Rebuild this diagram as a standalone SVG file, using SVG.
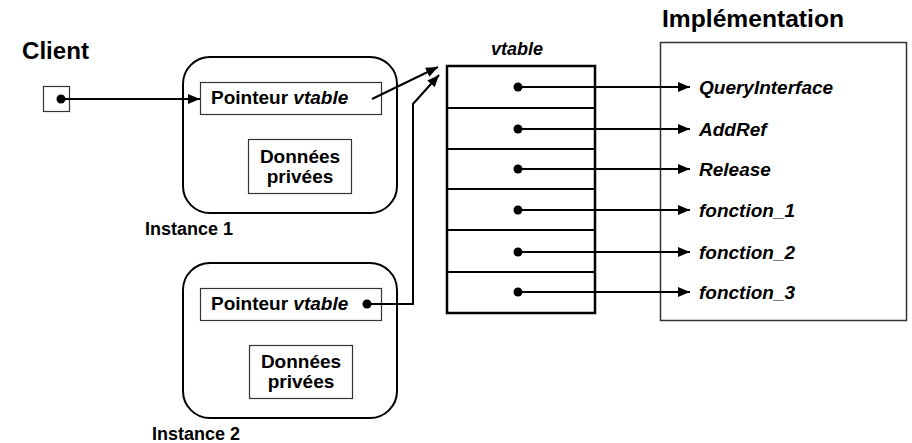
<svg xmlns="http://www.w3.org/2000/svg" width="912" height="443" viewBox="0 0 912 443">
  <style>
    text { font-family: "Liberation Sans", Arial, sans-serif; font-weight: bold; fill: #000; }
    .it { font-style: italic; }
    .title { font-size: 23px; }
    .lbl { font-size: 19px; }
    .cap { font-size: 18px; }
    .inst { fill: #fff; stroke: #000; stroke-width: 2; }
    .box { fill: #fff; stroke: #333; stroke-width: 1.2; }
    .wire { fill: none; stroke: #000; stroke-width: 2; }
    .dot { fill: #000; }
  </style>
  <defs>
    <marker id="arrow" viewBox="0 0 12 10" refX="12" refY="5" markerWidth="12" markerHeight="10" markerUnits="userSpaceOnUse" orient="auto">
      <path d="M0,0 L12,5 L0,10 Z" fill="#000"/>
    </marker>
  </defs>
  <rect width="912" height="443" fill="#fff"/>

  <!-- client pointer -->
  <g id="client">
    <text class="title" x="22" y="59" textLength="67" lengthAdjust="spacingAndGlyphs">Client</text>
    <rect class="box" x="43.5" y="86.5" width="26" height="25"/>
    <circle class="dot" cx="61" cy="99" r="4.5"/>
  </g>

  <!-- first object instance -->
  <g id="instance1">
    <rect class="inst" x="183" y="57" width="214" height="156" rx="27" ry="27"/>
    <rect class="box" x="200.5" y="82.5" width="181" height="32"/>
    <text class="lbl" x="211" y="104">Pointeur <tspan class="it">vtable</tspan></text>
    <rect class="box" x="248.5" y="139.5" width="103" height="54"/>
    <text class="lbl" x="300" y="163" text-anchor="middle">Données</text>
    <text class="lbl" x="300" y="183" text-anchor="middle">privées</text>
    <text class="cap" x="145" y="235">Instance 1</text>
  </g>

  <!-- second object instance -->
  <g id="instance2">
    <rect class="inst" x="183" y="263" width="214" height="155" rx="27" ry="27"/>
    <rect class="box" x="200.5" y="288.5" width="181" height="32"/>
    <text class="lbl" x="211" y="310">Pointeur <tspan class="it">vtable</tspan></text>
    <circle class="dot" cx="367" cy="304" r="4.5"/>
    <rect class="box" x="249.5" y="345.5" width="103" height="53"/>
    <text class="lbl" x="301" y="368" text-anchor="middle">Données</text>
    <text class="lbl" x="301" y="388" text-anchor="middle">privées</text>
    <text class="cap" x="152" y="440">Instance 2</text>
  </g>

  <!-- vtable -->
  <g id="vtable">
    <text class="cap it" x="517" y="55" text-anchor="middle">vtable</text>
    <rect x="447" y="66" width="148" height="247" fill="#fff" stroke="#000" stroke-width="2.5"/>
    <g stroke="#000" stroke-width="2">
      <line x1="447" y1="108" x2="595" y2="108"/>
      <line x1="447" y1="149" x2="595" y2="149"/>
      <line x1="447" y1="189" x2="595" y2="189"/>
      <line x1="447" y1="230" x2="595" y2="230"/>
      <line x1="447" y1="272" x2="595" y2="272"/>
    </g>
    <circle class="dot" cx="518" cy="87" r="4.5"/>
    <circle class="dot" cx="518" cy="129" r="4.5"/>
    <circle class="dot" cx="518" cy="169" r="4.5"/>
    <circle class="dot" cx="518" cy="210" r="4.5"/>
    <circle class="dot" cx="518" cy="252" r="4.5"/>
    <circle class="dot" cx="518" cy="292" r="4.5"/>
  </g>

  <!-- implementation block -->
  <g id="implementation">
    <text class="title" x="662" y="27" textLength="182" lengthAdjust="spacingAndGlyphs">Implémentation</text>
    <rect x="660.5" y="42.5" width="246" height="278" fill="none" stroke="#333" stroke-width="1.5"/>
    <text class="lbl it" x="699" y="94">QueryInterface</text>
    <text class="lbl it" x="699" y="136">AddRef</text>
    <text class="lbl it" x="699" y="176">Release</text>
    <text class="lbl it" x="699" y="217">fonction_1</text>
    <text class="lbl it" x="699" y="259">fonction_2</text>
    <text class="lbl it" x="699" y="299">fonction_3</text>
  </g>

  <!-- connectors -->
  <g id="connectors" class="wire">
    <path d="M61,99 H200" marker-end="url(#arrow)"/>
    <path d="M372,99 L438,67" marker-end="url(#arrow)"/>
    <path d="M367,304 H413 V104 L439,75" marker-end="url(#arrow)"/>
    <path d="M518,87 H690" marker-end="url(#arrow)"/>
    <path d="M518,129 H690" marker-end="url(#arrow)"/>
    <path d="M518,169 H690" marker-end="url(#arrow)"/>
    <path d="M518,210 H690" marker-end="url(#arrow)"/>
    <path d="M518,252 H690" marker-end="url(#arrow)"/>
    <path d="M518,292 H690" marker-end="url(#arrow)"/>
  </g>
</svg>
